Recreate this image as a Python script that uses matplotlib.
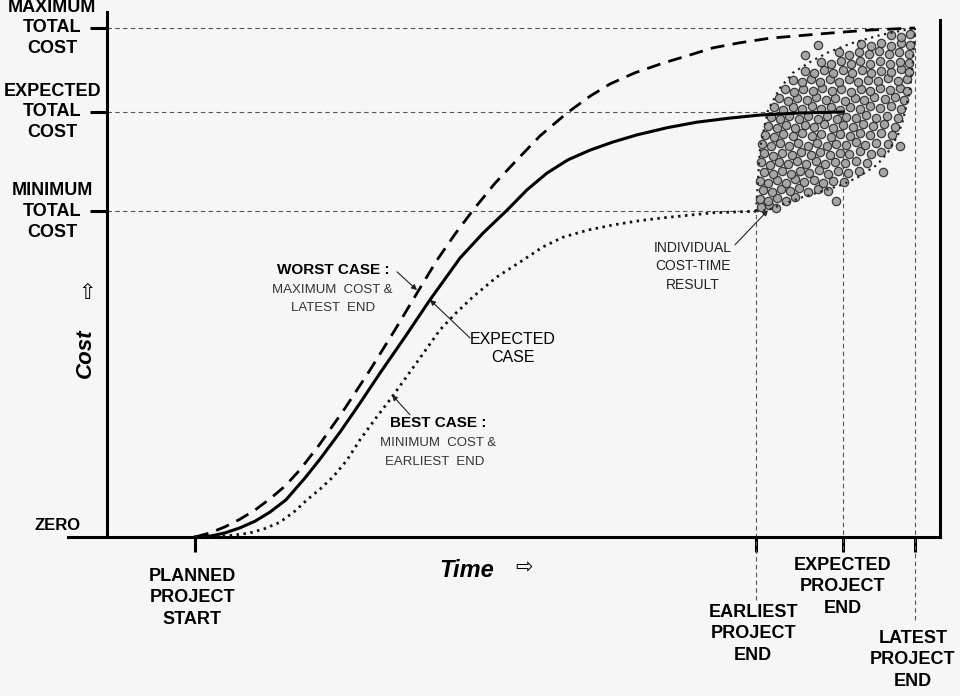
import matplotlib.pyplot as plt

plt.rcParams['font.family'] = ['Liberation Sans', 'DejaVu Sans']

# time in months after planned start, cost in % of the maximum total cost
cost_levels = [64.0, 83.5, 100.0]
cost_labels = ['MINIMUM\nTOTAL\nCOST', 'EXPECTED\nTOTAL\nCOST', 'MAXIMUM\nTOTAL\nCOST']
cost_line_end = [56.1, 64.8, 72.0]

time_marks = [0.0, 56.1, 64.8, 72.0]
time_labels = ['PLANNED\nPROJECT\nSTART', 'EARLIEST\nPROJECT\nEND',
               'EXPECTED\nPROJECT\nEND', 'LATEST\nPROJECT\nEND']
end_marks = [56.1, 64.8, 72.0]
end_costs = [64.0, 83.5, 100.0]

# worst case: maximum cost & latest end
worst_t = [0, 1.5, 3.0, 4.5, 6.0, 7.5, 9.0, 10.5, 12.5, 15.0, 17.5, 20.0,
           22.5, 24.2, 26.0, 27.8, 30.0, 32.2, 34.5, 37.2, 39.5, 41.5, 44.0,
           46.8, 49.5, 51.8, 54.5, 57.5, 63.5, 67.5, 72.0]
worst_c = [0, 0.8, 2.0, 3.5, 5.3, 7.5, 10.0, 13.2, 18.3, 25.3, 32.8, 40.7,
           48.9, 54.4, 59.5, 64.2, 69.5, 74.1, 78.8, 83.3, 86.6, 89.0, 91.2,
           93.1, 94.7, 96.1, 97.1, 98.0, 99.0, 99.6, 100.0]

# expected case
exp_t = [0, 1.6, 3.0, 4.5, 6.0, 7.5, 9.1, 11.0, 12.5, 14.5, 16.5, 18.5, 21.0,
         23.5, 25.0, 26.5, 28.8, 31.2, 33.2, 35.2, 37.3, 39.5, 41.8, 44.2,
         47.2, 50.2, 53.5, 56.5, 60.5, 64.8]
exp_c = [0, 0.2, 0.8, 1.8, 3.1, 4.9, 7.3, 11.6, 15.3, 20.6, 26.3, 32.2, 39.3,
         46.6, 50.7, 54.8, 59.7, 64.2, 68.2, 71.5, 74.1, 76.0, 77.6, 79.0,
         80.4, 81.5, 82.3, 82.9, 83.3, 83.5]

# best case: minimum cost & earliest end
best_t = [0, 1.9, 4.0, 5.5, 6.9, 8.5, 10.0, 11.2, 12.5, 13.8, 15.2, 16.5,
          18.1, 19.7, 22.0, 24.5, 26.1, 27.8, 30.2, 32.8, 34.8, 36.8, 39.3,
          41.8, 44.3, 46.8, 51.8, 56.1]
best_c = [0, 0, 0.4, 0.8, 1.6, 2.9, 5.1, 7.3, 9.4, 11.8, 15.1, 19.1,
          23.4, 27.5, 33.8, 40.7, 44.0, 47.2, 51.1, 54.4, 57.0, 58.9, 60.3,
          61.3, 62.1, 62.7, 63.7, 64.0]

# envelope of the individual results
upper_t = [56.1, 56.3, 56.5, 57.3, 58.5, 59.8, 61.5, 63.2, 65.5, 68.5, 72.0]
upper_c = [64.0, 70.1, 76.4, 83.9, 88.2, 91.2, 93.3, 95.1, 96.9, 98.6, 100.0]
lower_t = [72.0, 71.8, 71.5, 70.8, 70.3, 69.3, 68.2, 66.3, 64.7, 62.5, 60.8,
           58.8, 57.2, 56.1]
lower_c = [100.0, 93.7, 87.8, 81.9, 79.0, 75.6, 73.1, 70.7, 69.2, 67.8, 66.8,
           65.4, 64.2, 64.0]

# individual cost-time results
result_t = [
    56.6, 57.4, 58.1,
    56.5, 57.3, 58.2, 59.1, 60.0,
    56.8, 57.7, 58.6, 59.5, 60.4, 61.3, 62.3, 63.3,
    56.5, 57.3, 58.2, 59.1, 60.0, 60.9, 61.9, 62.8, 63.8, 64.9,
    56.9, 57.8, 58.7, 59.6, 60.5, 61.4, 62.4, 63.3, 64.3, 65.3, 66.4,
    56.6, 57.5, 58.4, 59.3, 60.2, 61.1, 62.1, 63.0, 64.0, 65.0, 66.1, 67.2,
    56.9, 57.8, 58.7, 59.7, 60.6, 61.6, 62.5, 63.5, 64.5, 65.4, 66.5, 67.6, 68.6,
    56.7, 57.6, 58.5, 59.4, 60.3, 61.3, 62.2, 63.2, 64.1, 65.1, 66.1, 67.0, 68.1, 69.3,
    57.0, 57.9, 58.8, 59.8, 60.7, 61.7, 62.6, 63.6, 64.5, 65.5, 66.5, 67.5, 68.6, 69.7,
    57.3, 58.2, 59.1, 60.0, 61.0, 61.9, 62.9, 63.8, 64.8, 65.8, 66.8, 67.8, 68.9, 70.0,
    57.6, 58.5, 59.4, 60.4, 61.3, 62.3, 63.2, 64.2, 65.1, 66.1, 67.1, 68.1, 69.2, 70.3,
    57.9, 58.8, 59.8, 60.7, 61.7, 62.6, 63.6, 64.5, 65.5, 66.5, 67.5, 68.5, 69.6, 70.6,
    58.4, 59.3, 60.2, 61.2, 62.1, 63.1, 64.0, 65.0, 66.0, 66.9, 67.9, 69.0, 70.0, 70.9,
    59.0, 59.9, 60.8, 61.8, 62.7, 63.7, 64.6, 65.6, 66.6, 67.5, 68.5, 69.5, 70.5, 71.2,
    59.8, 60.7, 61.6, 62.5, 63.5, 64.4, 65.4, 66.3, 67.3, 68.3, 69.3, 70.3, 71.2,
    61.0, 61.9, 62.9, 63.8, 64.8, 65.7, 66.7, 67.6, 68.6, 69.6, 70.6, 71.4,
    62.6, 63.6, 64.6, 65.6, 66.5, 67.5, 68.5, 69.5, 70.5, 71.4,
    64.4, 65.4, 66.4, 67.4, 68.4, 69.4, 70.4, 71.4,
    66.6, 67.6, 68.6, 69.6, 70.6, 71.5,
    69.6, 70.6, 71.5,
    62.3, 61.0, 64.1, 68.8, 70.5,
]
result_c = [
    64.9, 65.3, 64.7,
    66.5, 66.0, 66.6, 66.1, 66.7,
    68.2, 67.7, 68.4, 67.9, 68.5, 67.8, 68.4, 68.0,
    70.0, 69.5, 70.1, 69.6, 70.3, 69.7, 70.2, 69.5, 70.0, 69.8,
    71.8, 71.3, 71.9, 71.4, 72.0, 71.5, 72.1, 71.4, 71.9, 71.6, 72.0,
    73.6, 73.1, 73.7, 73.2, 73.8, 73.3, 73.9, 73.2, 73.7, 73.4, 73.9, 73.5,
    75.4, 74.9, 75.5, 75.0, 75.6, 75.1, 75.7, 75.0, 75.5, 75.2, 75.8, 75.3, 75.6,
    77.2, 76.8, 77.4, 76.9, 77.5, 76.9, 77.4, 76.8, 77.3, 77.0, 77.6, 77.1, 77.5, 77.2,
    79.0, 78.6, 79.2, 78.7, 79.3, 78.7, 79.2, 78.6, 79.1, 78.8, 79.4, 78.9, 79.3, 78.9,
    80.8, 80.3, 80.9, 80.4, 81.0, 80.5, 81.1, 80.4, 80.9, 80.6, 81.2, 80.7, 81.1, 80.6,
    82.6, 82.1, 82.7, 82.2, 82.8, 82.2, 82.7, 82.1, 82.6, 82.3, 82.9, 82.4, 82.8, 82.3,
    84.4, 83.9, 84.5, 84.0, 84.6, 84.0, 84.5, 83.9, 84.4, 84.1, 84.7, 84.2, 84.6, 84.1,
    86.2, 85.7, 86.3, 85.8, 86.4, 85.8, 86.3, 85.7, 86.2, 85.9, 86.5, 86.0, 86.4, 85.9,
    88.0, 87.5, 88.1, 87.6, 88.2, 87.6, 88.1, 87.5, 88.0, 87.7, 88.3, 87.8, 88.2, 87.6,
    89.8, 89.3, 89.9, 89.4, 90.0, 89.4, 89.9, 89.3, 89.8, 89.5, 90.1, 89.6, 90.0,
    91.6, 91.1, 91.7, 91.2, 91.8, 91.2, 91.7, 91.1, 91.6, 91.3, 91.9, 91.4,
    93.4, 92.9, 93.5, 93.0, 93.6, 93.0, 93.5, 92.9, 93.4, 93.1,
    95.2, 94.7, 95.3, 94.8, 95.4, 94.8, 95.3, 94.9,
    96.9, 96.5, 97.0, 96.5, 97.1, 96.6,
    98.7, 98.3, 98.8,
    96.7, 94.6, 66.0, 71.7, 76.8,
]

bg = '#f6f6f6'
fig = plt.figure(figsize=(9.6, 6.96), dpi=100, facecolor=bg)
ax = fig.add_axes([68 / 960, 159 / 696, 872 / 960, 525 / 696], facecolor=bg)
ax.set_xlim(-12.7, 74.5)
ax.set_ylim(0, 103.14)

# reference lines
grid = dict(color='#555555', lw=0.8, linestyles=(0, (4, 3)))
ax.hlines(cost_levels, -8.8, cost_line_end, **grid)
ax.vlines(end_marks, [-12.4, -2.5, -16.3], end_costs, clip_on=False, **grid)

# cloud of results and its envelope
ax.plot(result_t, result_c, 'o', ms=6, mfc='#9c9c9c', mec='#2a2a2a',
        mew=0.9, alpha=0.9, zorder=2)
ax.plot(upper_t, upper_c, color='#222222', lw=1.6, ls=(0, (1, 2)), zorder=3)
ax.plot(lower_t, lower_c, color='#222222', lw=1.6, ls=(0, (1, 2)), zorder=3)

# cost curves
ax.plot(worst_t, worst_c, color='black', lw=2.0, ls=(0, (5, 3)), zorder=4)
ax.plot(exp_t, exp_c, color='black', lw=2.2, zorder=4)
ax.plot(best_t, best_c, color='#111111', lw=2.0, ls=(0, (0.9, 1.6)), zorder=4)

# axes
for side in ['left', 'bottom', 'right']:
    ax.spines[side].set_linewidth(2.2)
ax.spines['top'].set_visible(False)
ax.spines['left'].set_position(('data', -8.8))
ax.spines['right'].set_bounds(0, 101.5)

ax.set_yticks(cost_levels, labels=cost_labels)
ax.tick_params(axis='y', length=12, width=2.2, pad=27.4, labelsize=13)
for lbl in ax.get_yticklabels():
    lbl.set_horizontalalignment('center')
    lbl.set_verticalalignment('center')
    lbl.set_fontweight('bold')
    lbl.set_linespacing(1.3)

ax.set_xticks(time_marks, labels=[''] * len(time_marks))
ax.tick_params(axis='x', length=10.5, width=2.2)
drops = [22, 48, 14.1, 66.7]
shifts = [-2, -2, 0, -1.5]
for t, lab, d, s in zip(time_marks, time_labels, drops, shifts):
    ax.annotate(lab, xy=(t, 0), xytext=(s, -d), textcoords='offset points',
                ha='center', va='top', fontsize=13, fontweight='bold',
                linespacing=1.35, annotation_clip=False)

ax.annotate('ZERO', xy=(-8.8, 0), xytext=(-35.6, 8.6), textcoords='offset points',
            ha='center', va='center', fontsize=12, fontweight='bold',
            annotation_clip=False)

ax.set_ylabel('Cost', fontsize=16, fontweight='bold', fontstyle='italic', va='center')
ax.yaxis.set_label_coords(0.0195, 0.3505)
ax.set_xlabel('Time', fontsize=17, fontweight='bold', fontstyle='italic', va='center')
ax.xaxis.set_label_coords(0.4576, -0.0629)
ax.text(0.0218, 0.4648, '\u21e7', transform=ax.transAxes, ha='center', va='center',
        fontsize=15, family=['DejaVu Sans'])
ax.text(0.523, -0.0571, '\u21e8', transform=ax.transAxes, ha='center', va='center',
        fontsize=15, family=['DejaVu Sans'])

# curve annotations
arrow = dict(arrowstyle='-|>', lw=0.8, color='#222222', shrinkA=0, shrinkB=0,
             mutation_scale=8)
ax.text(13.8, 52.5, 'WORST CASE :', ha='center', va='center', fontsize=11, fontweight='bold')
ax.text(13.7, 48.5, 'MAXIMUM  COST &', ha='center', va='center', fontsize=9.5, color='#333333')
ax.text(13.8, 45.0, 'LATEST  END', ha='center', va='center', fontsize=9.5, color='#333333')
ax.annotate('', xy=(22.2, 48.5), xytext=(20.2, 52.1), arrowprops=arrow)

ax.text(31.8, 37.0, 'EXPECTED\nCASE', ha='center', va='center', fontsize=11.5,
        linespacing=1.3)
ax.annotate('', xy=(23.5, 46.6), xytext=(27.5, 39.1), arrowprops=arrow)

ax.text(24.3, 22.4, 'BEST CASE :', ha='center', va='center', fontsize=11, fontweight='bold')
ax.text(24.3, 18.5, 'MINIMUM  COST &', ha='center', va='center', fontsize=9.5, color='#333333')
ax.text(24.0, 14.7, 'EARLIEST  END', ha='center', va='center', fontsize=9.5, color='#333333')
ax.annotate('', xy=(19.7, 27.9), xytext=(21.5, 24.0), arrowprops=arrow)

ax.text(49.8, 53.2, 'INDIVIDUAL\nCOST-TIME\nRESULT', ha='center', va='center',
        fontsize=10, linespacing=1.4, color='#222222')
ax.annotate('', xy=(57.3, 64.2), xytext=(54.0, 57.4), arrowprops=arrow)

fig.savefig('out.png', dpi=100, facecolor=bg)
